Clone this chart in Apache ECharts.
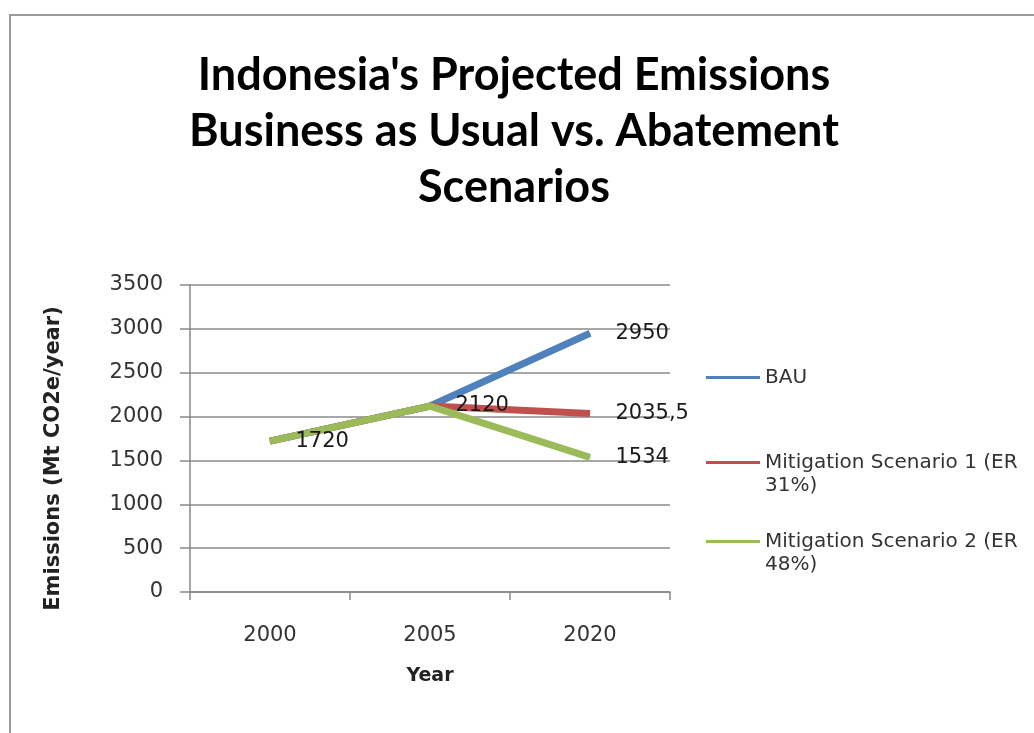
<!DOCTYPE html>
<html>
<head>
<meta charset="utf-8">
<script src="https://cdn.jsdelivr.net/npm/echarts@6/dist/echarts.min.js"></script>
<style>html,body{margin:0;padding:0;background:#fff;}#c{width:1034px;height:733px;}</style>
</head>
<body>
<div id="c"></div>
<script>
const years = ['2000', '2005', '2020'];
const bau = [1720, 2120, 2950];
const ms1 = [1720, 2120, 2035.5];
const ms2 = [1720, 2120, 1534];
const seriesNames = ['BAU', 'Mitigation Scenario 1 (ER 31%)', 'Mitigation Scenario 2 (ER 48%)'];
const legendTexts = ['BAU', '\nMitigation Scenario 1 (ER\n31%)', '\nMitigation Scenario 2 (ER\n48%)'];
const seriesColors = ['#4F81BD', '#C0504D', '#9BBB59'];
const yTicks = [0, 500, 1000, 1500, 2000, 2500, 3000, 3500];
// which points carry a value label, per series
const labelShow = [[false, false, true], [false, false, true], [true, true, true]];

const fmt = v => String(v).replace('.', ',');
function mk(vals, idx) {
  return vals.map((v, i) => ({ value: v, label: { show: labelShow[idx][i] } }));
}
const chart = echarts.init(document.getElementById('c'));
const seriesData = [bau, ms1, ms2];
const legendTops = [366, 428, 507];
chart.setOption({
  backgroundColor: '#fff',
  animation: false,
  title: {
    text: "Indonesia's Projected Emissions\nBusiness as Usual vs. Abatement\nScenarios",
    left: 509, top: 42, textAlign: 'center',
    textStyle: { fontFamily: 'Lato', fontWeight: 'bold', fontSize: 45, lineHeight: 56, color: '#000' }
  },
  graphic: [{
    type: 'rect', shape: { x: 10, y: 15, width: 1100, height: 800 },
    style: { fill: 'none', stroke: '#9a9a9a', lineWidth: 2 }, silent: true, z: -1
  }],
  legend: seriesNames.map((n, k) => ({
    orient: 'vertical', left: 706, top: legendTops[k], padding: 0,
    itemWidth: 54, itemHeight: 3, icon: 'rect', itemGap: 0,
    textStyle: { fontFamily: 'DejaVu Sans', fontSize: 20, color: '#333', lineHeight: 23 },
    formatter: () => legendTexts[k],
    data: [n]
  })),
  grid: { left: 190, right: 364, top: 285, bottom: 141, containLabel: false },
  xAxis: {
    type: 'category', data: years, boundaryGap: true,
    name: 'Year', nameLocation: 'middle', nameGap: 75,
    nameTextStyle: { fontFamily: 'DejaVu Sans', fontWeight: 'bold', fontSize: 19, color: '#222' },
    axisLine: { lineStyle: { color: '#888', width: 1.5 } },
    axisTick: { show: true, alignWithLabel: false, length: 8, lineStyle: { color: '#888', width: 1.5 } },
    axisLabel: { fontFamily: 'DejaVu Sans', fontSize: 21, color: '#333', margin: 33 }
  },
  yAxis: {
    type: 'value', min: 0, max: 3500, interval: 500,
    name: 'Emissions (Mt CO2e/year)', nameLocation: 'middle', nameGap: 126, nameRotate: 90,
    nameTextStyle: { fontFamily: 'DejaVu Sans', fontWeight: 'bold', fontSize: 21, color: '#222', padding: [0, 40, 0, 0] },
    axisLine: { show: true, lineStyle: { color: '#888', width: 1.5 } },
    axisTick: { show: true, length: 10, lineStyle: { color: '#888', width: 1.5 } },
    axisLabel: { fontFamily: 'DejaVu Sans', fontSize: 21, color: '#333', margin: 27,
      formatter: v => yTicks.includes(v) ? String(v) : '' },
    splitLine: { show: true, lineStyle: { color: '#8a8a8a', width: 1.5 } }
  },
  series: seriesData.map((d, k) => ({
    name: seriesNames[k], type: 'line', data: mk(d, k),
    symbol: 'circle', symbolSize: 1, showSymbol: true,
    lineStyle: { width: 7, color: seriesColors[k] },
    itemStyle: { color: seriesColors[k] },
    label: { position: 'right', distance: 25, fontFamily: 'DejaVu Sans', fontSize: 21, color: '#1a1a1a',
      formatter: p => fmt(p.value) },
    z: 2 + k
  }))
});
</script>
</body>
</html>
